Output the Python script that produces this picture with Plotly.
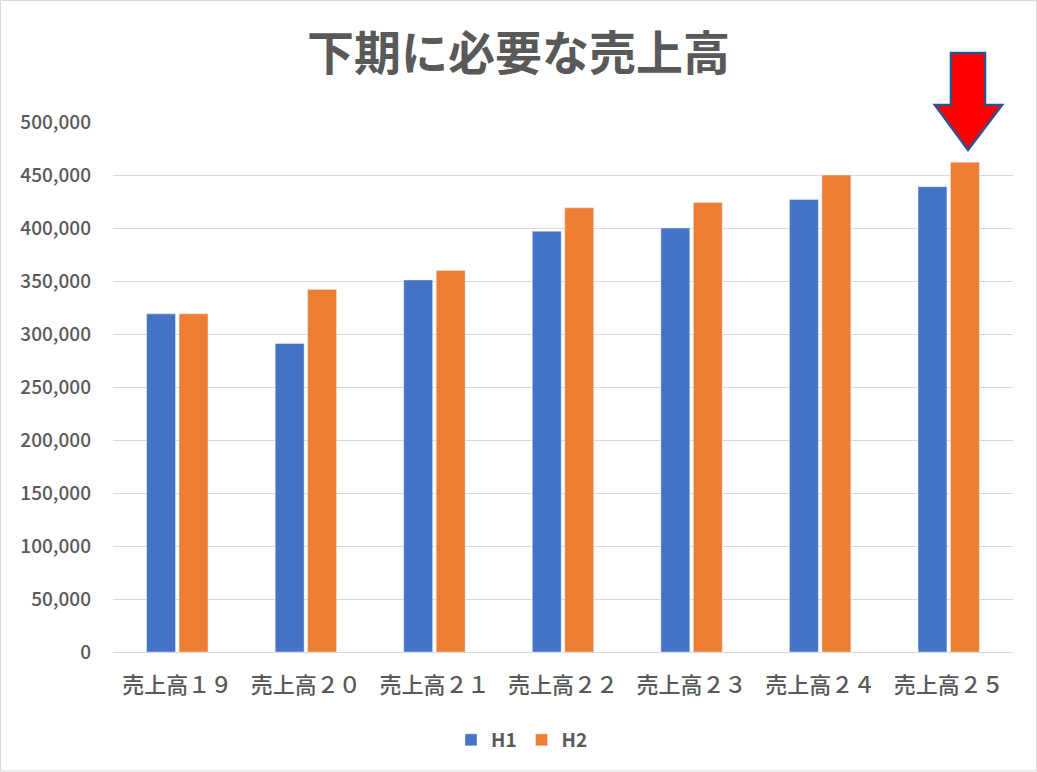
import plotly.graph_objects as go

categories = ["売上高１９", "売上高２０", "売上高２１", "売上高２２", "売上高２３", "売上高２４", "売上高２５"]
h1_values = [319000, 291000, 351000, 397000, 400000, 427000, 439000]
h2_values = [319000, 342000, 360000, 419000, 424000, 450000, 462000]
series_names = ["H1", "H2"]
title_text = "下期に必要な売上高"

W, H = 1037, 772
L, R, T, B = 113, 24, 122, 120
pw, ph = W - L - R, H - T - B

def px(x):
    return (x - L) / pw

def py(y):
    return (H - B - y) / ph

font_main = "Noto Sans CJK JP, Noto Sans, sans-serif"
grey = "#595959"

fig = go.Figure()
fig.add_trace(go.Bar(x=categories, y=h1_values, name=series_names[0], marker_color="#4472C4"))
fig.add_trace(go.Bar(x=categories, y=h2_values, name=series_names[1], marker_color="#ED7D31"))

arrow_pts = [(951, 53), (985, 53), (985, 105), (1002, 105), (968, 150), (935, 105), (951, 105)]
path = "M " + " L ".join(f"{px(x):.4f},{py(y):.4f}" for x, y in arrow_pts) + " Z"

fig.update_layout(
    width=W, height=H,
    margin=dict(l=L, r=R, t=T, b=B, autoexpand=False),
    paper_bgcolor="white", plot_bgcolor="white",
    barmode="group", bargap=0.495, bargroupgap=0.11,
    title=dict(text=f"<b>{title_text}</b>", x=0.5, xref="container", xanchor="center",
               y=1 - 54 / H, yanchor="middle",
               font=dict(family=font_main, size=47, color=grey)),
    font=dict(family=font_main, color=grey),
    xaxis=dict(showgrid=False, showline=True, linecolor="#d9d9d9", linewidth=1,
               ticks="", tickangle=0, tickfont=dict(size=22, color=grey, weight=500),
               ticklabelstandoff=14),
    yaxis=dict(range=[0, 500000], dtick=50000, tickformat=",d", showgrid=True,
               gridcolor="#d9d9d9", gridwidth=1, zeroline=False, showline=False,
               tickfont=dict(size=19, color=grey, weight=500), ticklabelstandoff=21),
    legend=dict(orientation="h", x=px(522), xanchor="center", xref="paper",
                y=py(740), yanchor="middle", font=dict(size=19, color=grey, weight=600),
                itemwidth=30, traceorder="normal"),
    shapes=[
        dict(type="path", path=path, xref="paper", yref="paper",
             fillcolor="#FF0000", line=dict(color="#2F528F", width=2.5)),
        dict(type="rect", xref="paper", yref="paper",
             x0=px(0.5), x1=px(1036.5), y0=py(0.5), y1=py(771), layer="below",
             line=dict(color="#d9d9d9", width=1), fillcolor="rgba(0,0,0,0)"),
    ],
)

fig.write_html("out.html", config={"displayModeBar": False},
               post_script="document.body.style.margin='0';document.body.style.padding='0';")
